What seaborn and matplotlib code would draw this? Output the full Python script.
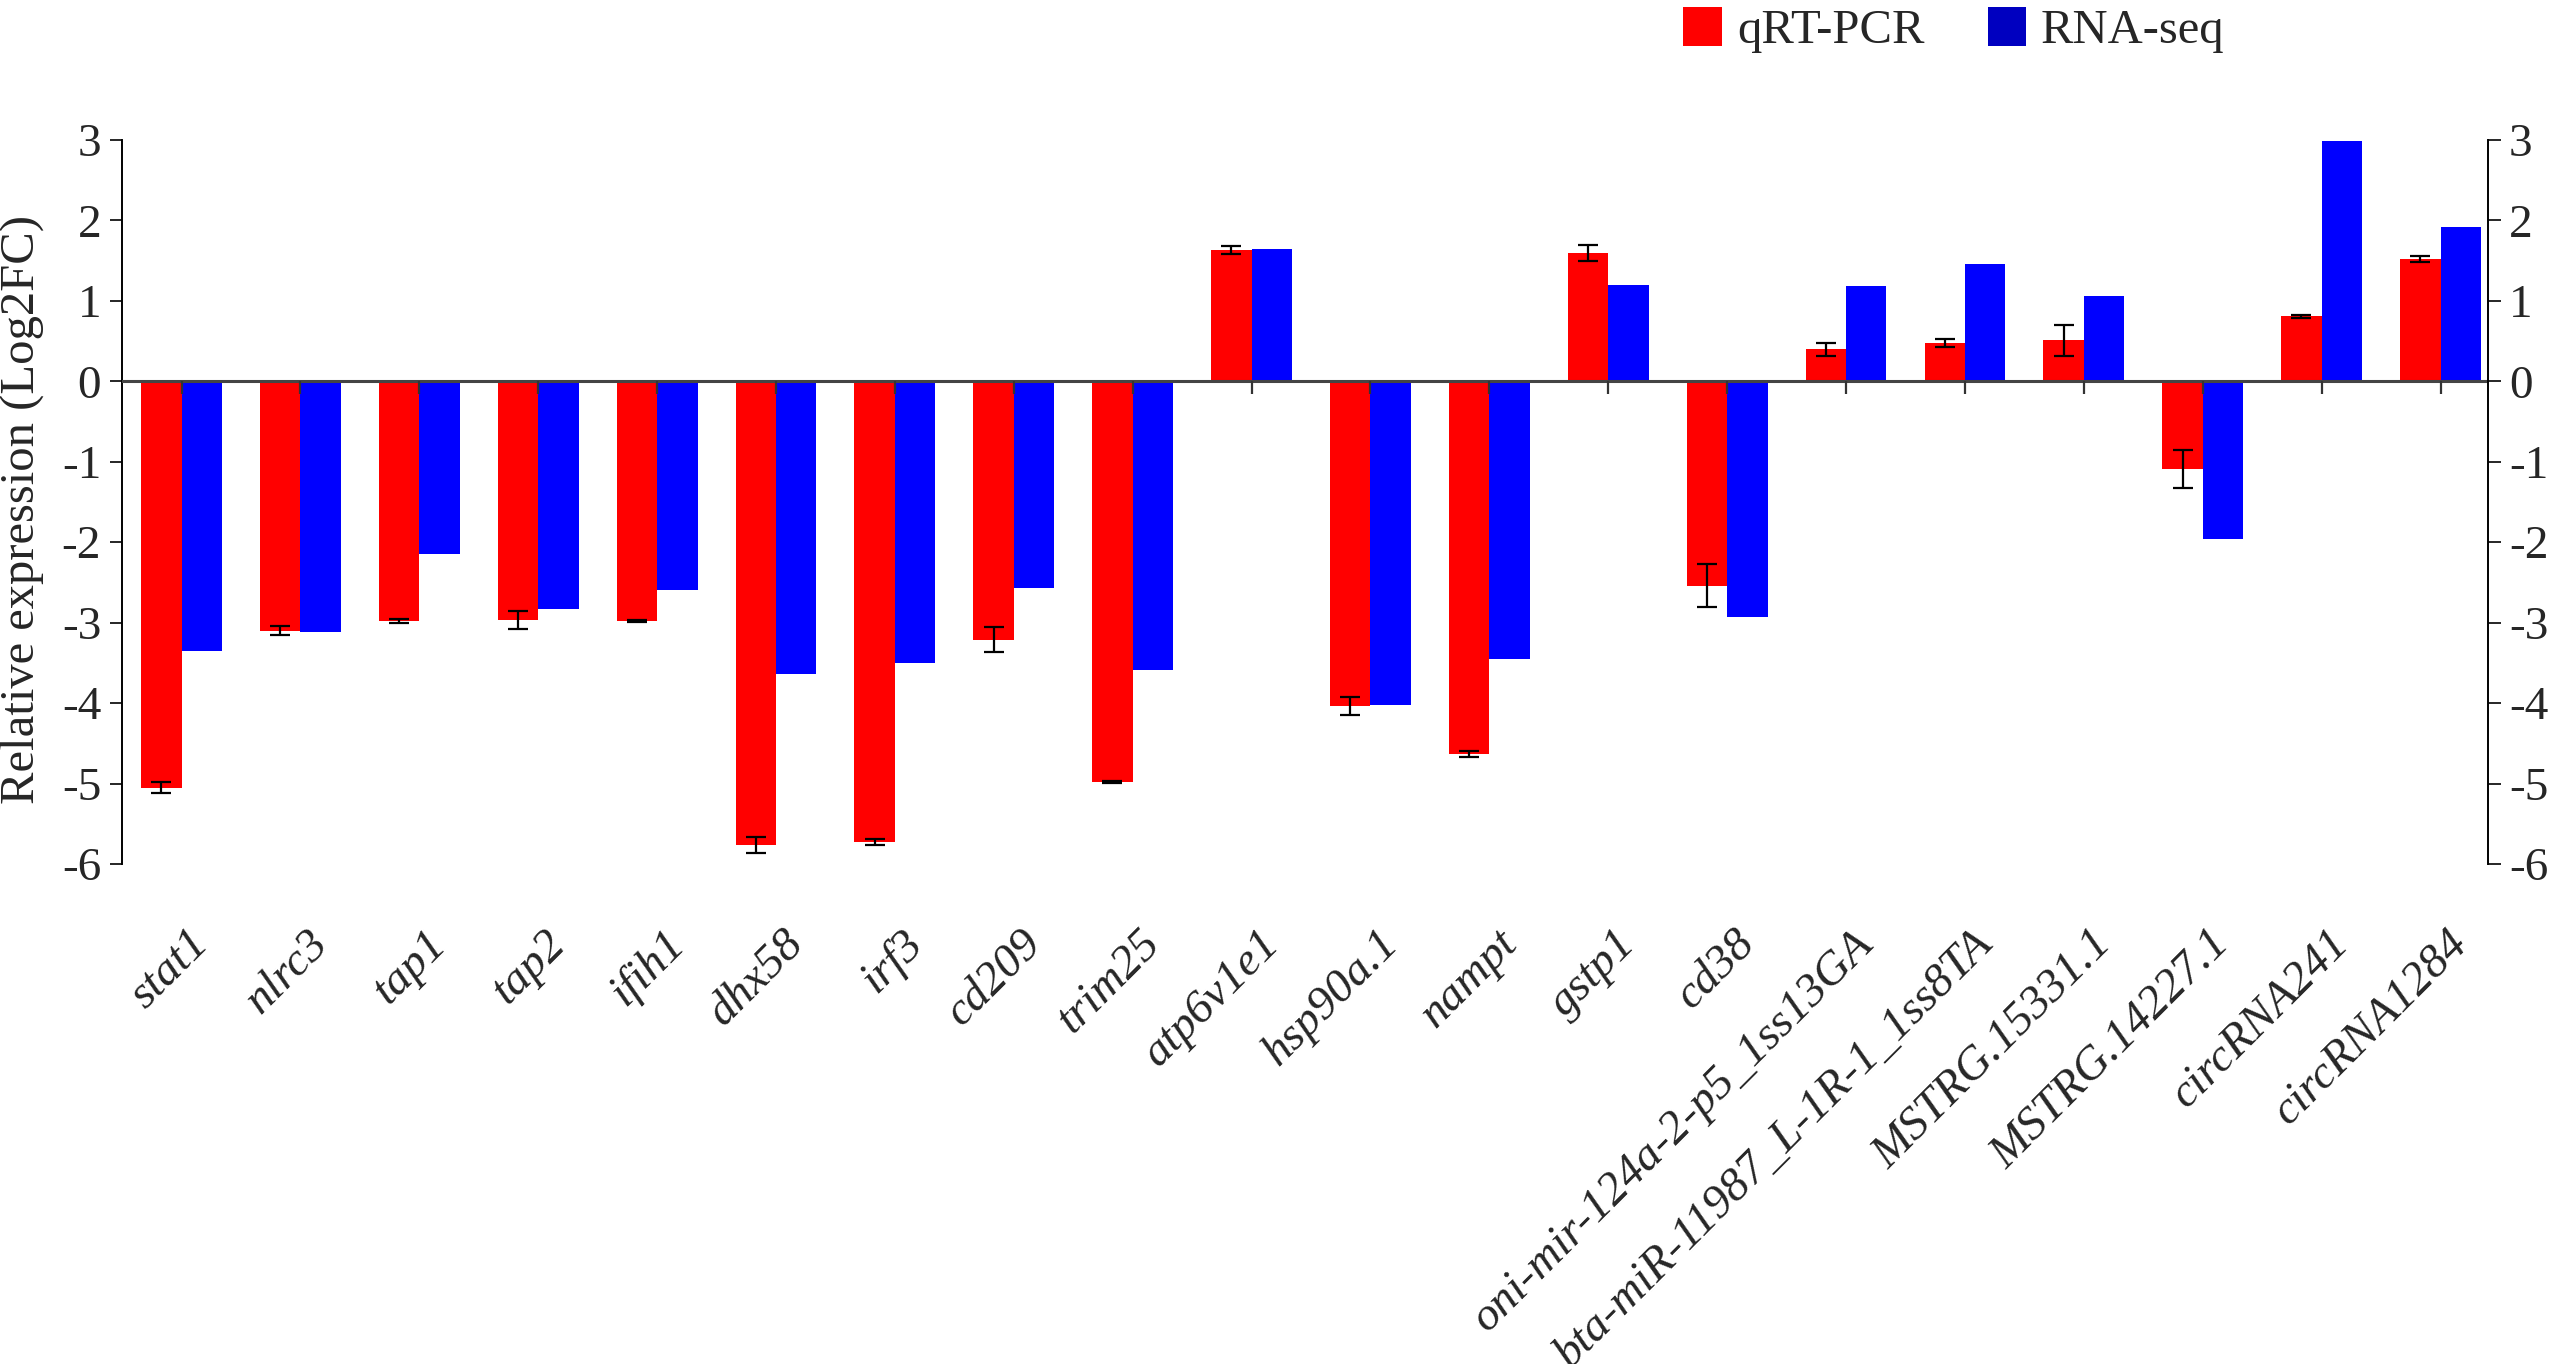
import matplotlib
matplotlib.use('Agg')
import matplotlib.pyplot as plt
import matplotlib.transforms as mtransforms
import seaborn as sns
import pandas as pd

genes = ['stat1', 'nlrc3', 'tap1', 'tap2', 'ifih1', 'dhx58', 'irf3', 'cd209', 'trim25',
         'atp6v1e1', 'hsp90a.1', 'nampt', 'gstp1', 'cd38',
         'oni-mir-124a-2-p5_1ss13GA', 'bta-miR-11987_L-1R-1_1ss8TA',
         'MSTRG.15331.1', 'MSTRG.14227.1', 'circRNA241', 'circRNA1284']
qpcr = [-5.05, -3.10, -2.98, -2.97, -2.98, -5.77, -5.73, -3.21, -4.98, 1.63,
        -4.04, -4.63, 1.59, -2.54, 0.40, 0.47, 0.51, -1.09, 0.81, 1.52]
qpcr_err = [0.07, 0.06, 0.03, 0.11, 0.01, 0.10, 0.04, 0.15, 0.01, 0.05,
            0.11, 0.04, 0.10, 0.27, 0.08, 0.05, 0.19, 0.24, 0.02, 0.04]
rnaseq = [-3.35, -3.12, -2.15, -2.83, -2.60, -3.64, -3.50, -2.57, -3.59, 1.64,
          -4.03, -3.45, 1.20, -2.93, 1.18, 1.46, 1.06, -1.96, 2.99, 1.92]
methods = ['qRT-PCR', 'RNA-seq']
yticks = [3, 2, 1, 0, -1, -2, -3, -4, -5, -6]

df = pd.DataFrame({
    'gene': genes * 2,
    'method': [methods[0]] * len(genes) + [methods[1]] * len(genes),
    'value': qpcr + rnaseq,
})

sns.set_theme(style='ticks')
plt.rcParams['font.family'] = ['Liberation Serif', 'DejaVu Serif']
plt.rcParams['axes.unicode_minus'] = False

fig = plt.figure(figsize=(25.59, 13.64), dpi=100)
ax = fig.add_axes([0.0477, 0.3666, 0.9246, 0.5308])

sns.barplot(data=df, x='gene', y='value', hue='method', order=genes, hue_order=methods,
            palette={'qRT-PCR': '#ff0000', 'RNA-seq': '#0000ff'}, saturation=1,
            width=0.68, errorbar=None, linewidth=0, ax=ax, zorder=2)

# error bars on the qRT-PCR bars
red_bars = ax.containers[0]
xs = [p.get_x() + p.get_width() / 2 for p in red_bars]
ax.errorbar(xs, qpcr, yerr=qpcr_err, fmt='none', ecolor='black',
            elinewidth=1.6, capsize=7, capthick=1.6, zorder=4)

# zero line with small ticks
ax.axhline(0, color='#444444', lw=2.2, zorder=3)
ax.vlines(ax.get_xticks(), -0.16, 0, color='#333333', lw=1.6, zorder=3)

ax.set_xlim(-0.5, 19.4)
ax.set_ylim(-6, 3)
ax.set_yticks(yticks)
ax.set_xlabel('')
ax.set_ylabel('Relative expression (Log2FC)', fontsize=35)
ax.yaxis.set_label_coords(-0.033, 0.49)
ax.set_xticks(range(len(genes)))
ax.set_xticklabels(genes, rotation=45, ha='right', rotation_mode='anchor',
                   style='italic', fontsize=34)
ax.tick_params(axis='x', length=0, pad=42)
shift = mtransforms.ScaledTranslation(6 / 100, 0, fig.dpi_scale_trans)
for lab in ax.get_xticklabels():
    lab.set_transform(lab.get_transform() + shift)
ax.tick_params(axis='y', direction='out', length=9, width=1.4, labelsize=34, pad=6)
for s in ['top', 'bottom', 'right']:
    ax.spines[s].set_visible(False)
ax.spines['left'].set_linewidth(1.4)
ax.spines['left'].set_color('black')

ax2 = ax.twinx()
ax2.set_ylim(ax.get_ylim())
ax2.set_yticks(yticks)
ax2.tick_params(axis='y', direction='out', length=9, width=1.4, labelsize=34, pad=6)
for s in ['top', 'bottom', 'left']:
    ax2.spines[s].set_visible(False)
ax2.spines['right'].set_linewidth(1.4)
ax2.spines['right'].set_color('black')

handles, labels = ax.get_legend_handles_labels()
ax.get_legend().remove()
leg = fig.legend(handles, labels, loc='center', bbox_to_anchor=(0.7636, 0.978),
                 ncol=2, frameon=False, fontsize=35, handlelength=0.8, handleheight=0.85,
                 handletextpad=0.3, columnspacing=1.3)
leg.legend_handles[1].set_facecolor('#0000c0')

fig.savefig('out.png', dpi=100, facecolor='white')
